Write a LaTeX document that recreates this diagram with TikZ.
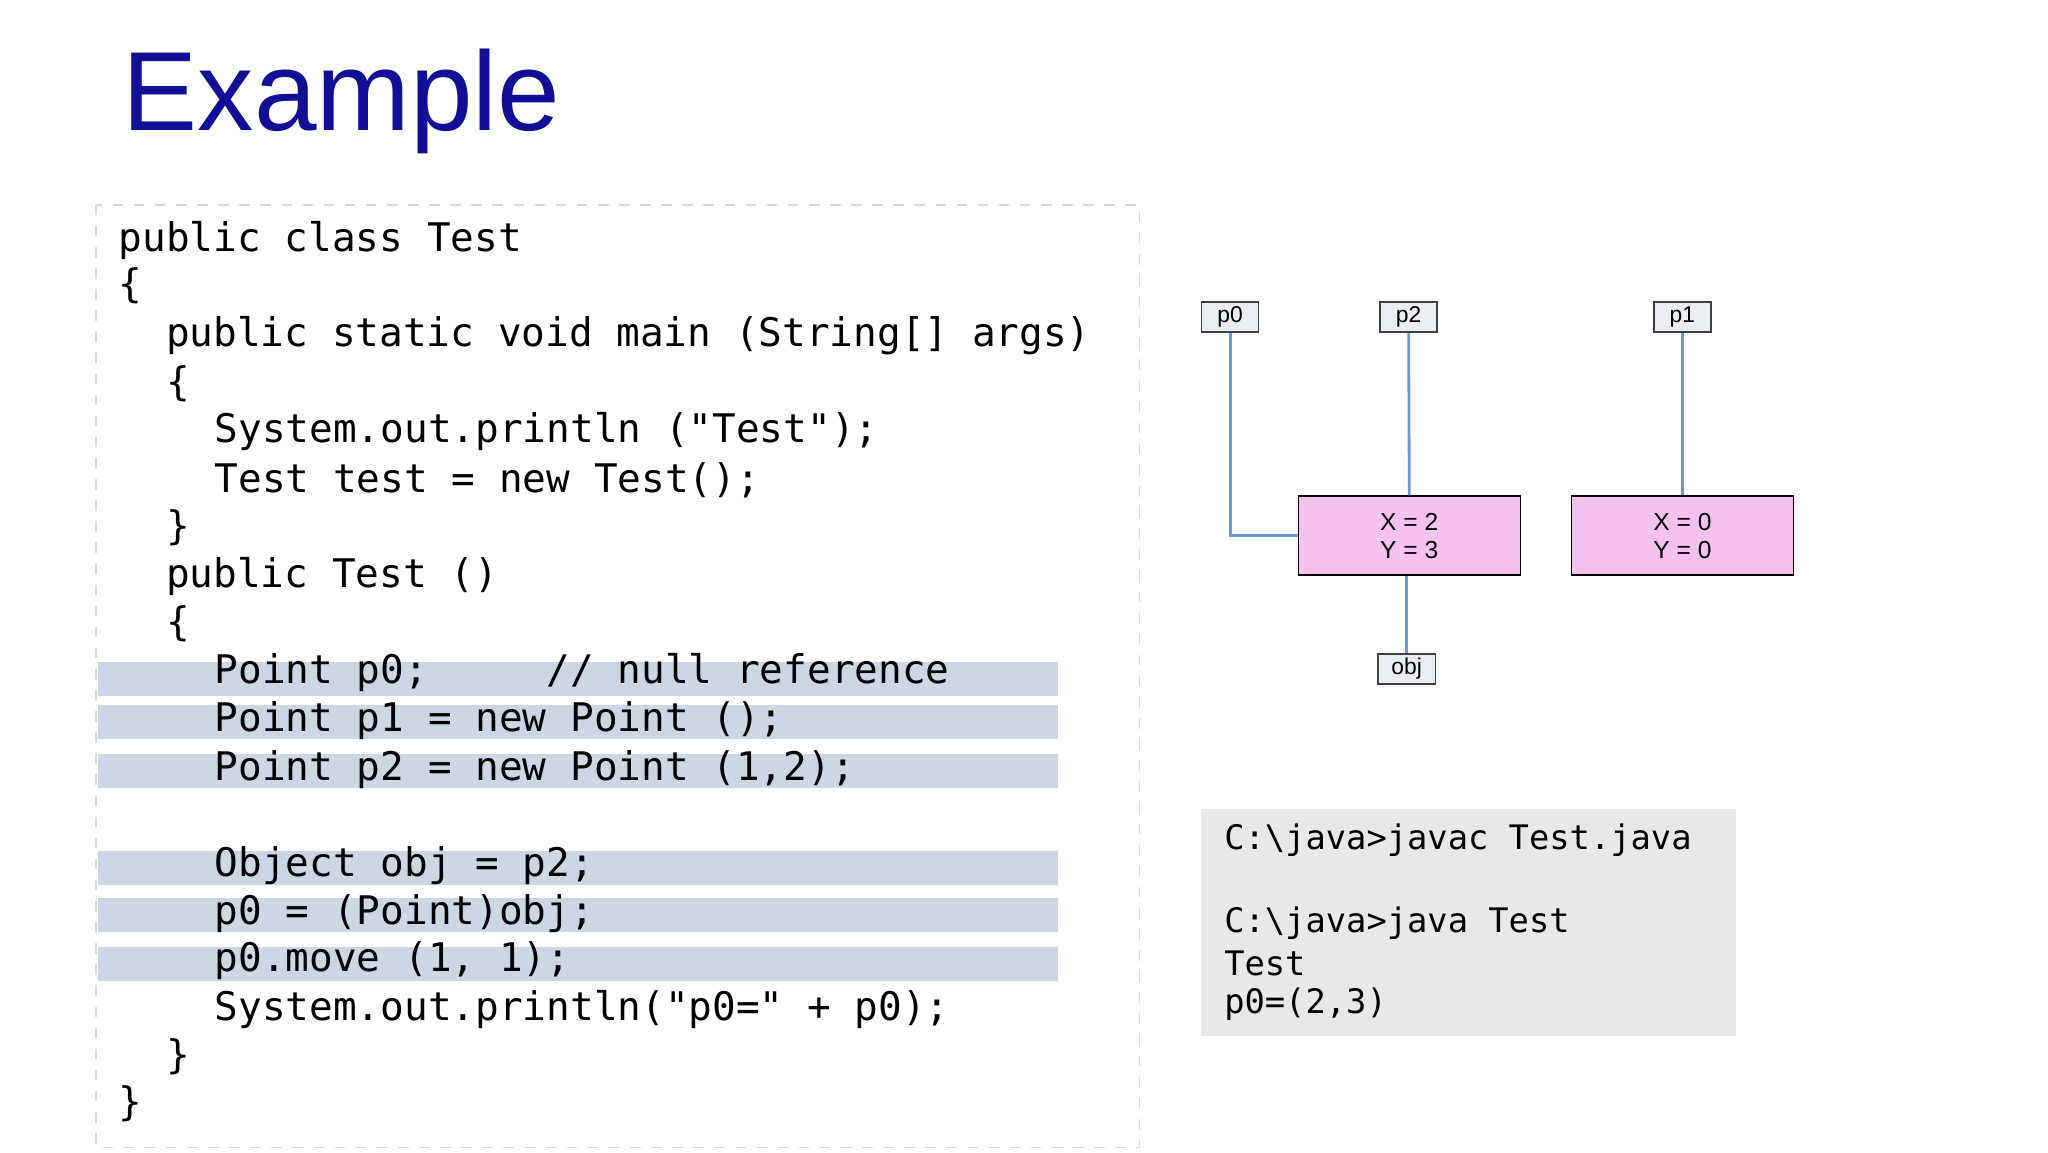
\documentclass[tikz,border=0pt]{standalone}
\usepackage{fontspec}
\setmainfont{Liberation Sans}
\newfontfamily\codefont{DejaVu Sans Mono}
\usepackage{xcolor}
\usetikzlibrary{positioning}

\definecolor{titleblue}{RGB}{18,14,150}
\definecolor{barblue}{RGB}{205,214,227}
\definecolor{linkblue}{RGB}{110,150,215}
\definecolor{objpink}{RGB}{244,194,236}
\definecolor{varfill}{RGB}{234,237,244}
\definecolor{consolegray}{RGB}{232,232,232}

\begin{document}
\begin{tikzpicture}[
    x=0.013128cm, y=-0.013128cm,
    code/.style={anchor=west, inner sep=0pt, font=\codefont\fontsize{11.2}{13}\selectfont},
    con/.style={anchor=west, inner sep=0pt, font=\codefont\fontsize{9.6}{12}\selectfont},
    bar/.style={fill=barblue, draw=none},
    var/.style={rectangle, draw=black!75, fill=varfill, minimum width=0.57cm, minimum height=0.3cm, inner sep=0pt, font=\fontsize{6.5}{7}\selectfont},
    obj/.style={rectangle, draw=black, fill=objpink, minimum width=2.22cm, minimum height=0.79cm, align=center, inner sep=0pt, font=\fontsize{7}{8}\selectfont},
    link/.style={draw=linkblue, line width=0.8pt}
]
    \useasboundingbox (0,0) rectangle (1560,877.5);

    % Title
    \node[anchor=west, inner sep=0pt, text=titleblue, font=\fontsize{32}{38}\selectfont] (title) at (93,77) {Example};

    % Code frame and highlight bars
    \draw[black!15, dashed] (73,156) rectangle (868,874);
    \foreach \y in {517,550,587,661,697,734}
        \fill[bar] (75,\y-13) rectangle (806,\y+13);

    % Code lines
    \node[code] (l0) at (90,183) {public class Test};
    \node[code] (l1) at (90,218) {\{};
    \node[code] (l2) at (126,256) {public static void main (String[] args)};
    \node[code] (l3) at (126,292) {\{};
    \node[code] (l4) at (163,329) {System.out.println ("Test");};
    \node[code] (l5) at (163,366) {Test test = new Test();};
    \node[code] (l6) at (126,402) {\}};
    \node[code] (l7) at (126,439) {public Test ()};
    \node[code] (l8) at (126,475) {\{};
    \node[code] (l9) at (163,512) {Point p0;\ \ \ \ \ // null reference};
    \node[code] (l10) at (163,549) {Point p1 = new Point ();};
    \node[code] (l11) at (163,586) {Point p2 = new Point (1,2);};
    \node[code] (l13) at (163,659) {Object obj = p2;};
    \node[code] (l14) at (163,696) {p0 = (Point)obj;};
    \node[code] (l15) at (163,732) {p0.move (1, 1);};
    \node[code] (l16) at (163,769) {System.out.println("p0=" + p0);};
    \node[code] (l17) at (126,805) {\}};
    \node[code] (l18) at (90,841) {\}};

    % Memory picture
    \node[var] (p0) at (937,241.5) {p0};
    \node[var] (p2) at (1073,241.5) {p2};
    \node[var] (p1) at (1281.5,241.5) {p1};
    \node[obj] (ptA) at (1073.5,408) {X = 2\\Y = 3};
    \node[obj] (ptB) at (1281.5,408) {X = 0\\Y = 0};
    \node[var] (objv) at (1071.5,509.5) {obj};

    \draw[link] (p0.south) |- (ptA.west);
    \draw[link] (p2.south) -- (ptA.north);
    \draw[link] (p1.south) -- (ptB.north);
    \draw[link] (ptA.south -| objv.north) -- (objv.north);

    % Console output
    \fill[consolegray] (915,616) rectangle (1322,789);
    \node[con] (c0) at (932,640) {C:\textbackslash java>javac Test.java};
    \node[con] (c1) at (932,703) {C:\textbackslash java>java Test};
    \node[con] (c2) at (932,734) {Test};
    \node[con] (c3) at (932,765) {p0=(2,3)};
\end{tikzpicture}
\end{document}
